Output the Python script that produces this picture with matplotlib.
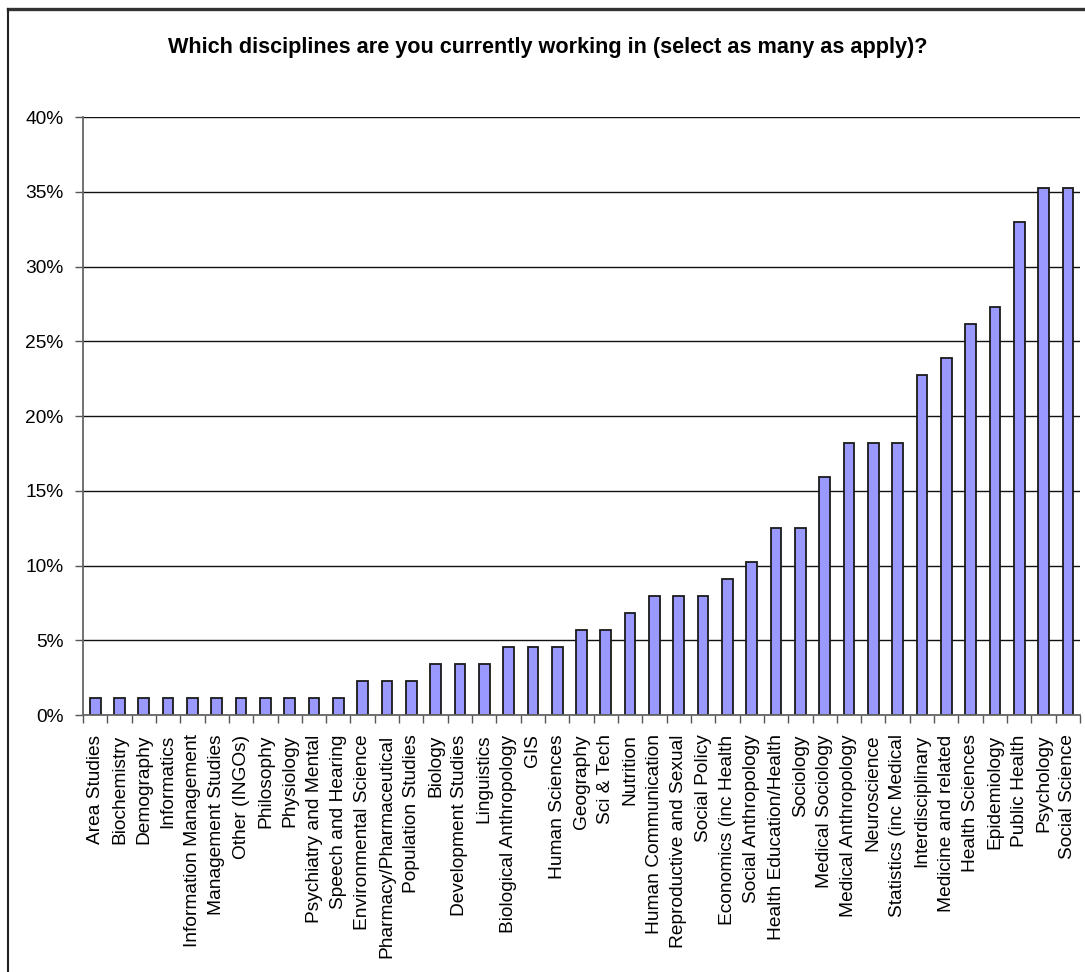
import matplotlib
matplotlib.use("Agg")
import matplotlib.pyplot as plt
from matplotlib.lines import Line2D
from matplotlib.ticker import FixedLocator, MultipleLocator, FuncFormatter

categories = [
    "Area Studies", "Biochemistry", "Demography", "Informatics",
    "Information Management", "Management Studies", "Other (INGOs)",
    "Philosophy", "Physiology", "Psychiatry and Mental", "Speech and Hearing",
    "Environmental Science", "Pharmacy/Pharmaceutical", "Population Studies",
    "Biology", "Development Studies", "Linguistics", "Biological Anthropology",
    "GIS", "Human Sciences", "Geography", "Sci & Tech", "Nutrition",
    "Human Communication", "Reproductive and Sexual", "Social Policy",
    "Economics (inc Health", "Social Anthropology", "Health Education/Health",
    "Sociology", "Medical Sociology", "Medical Anthropology", "Neuroscience",
    "Statistics (inc Medical", "Interdisciplinary", "Medicine and related",
    "Health Sciences", "Epidemiology", "Public Health", "Psychology",
    "Social Science",
]
percent = [
    1.14, 1.14, 1.14, 1.14, 1.14, 1.14, 1.14, 1.14, 1.14, 1.14, 1.14,
    2.27, 2.27, 2.27,
    3.41, 3.41, 3.41,
    4.55, 4.55, 4.55,
    5.68, 5.68,
    6.82,
    7.95, 7.95, 7.95,
    9.09,
    10.23,
    12.50, 12.50,
    15.91,
    18.18, 18.18, 18.18,
    22.73, 23.86, 26.14, 27.27, 32.95, 35.23, 35.23,
]
title = "Which disciplines are you currently working in (select as many as apply)?"

plt.rcParams["font.family"] = ["Liberation Sans", "DejaVu Sans"]

fig = plt.figure(figsize=(10.85, 9.72), dpi=100)
ax = fig.add_axes([0.0765, 0.2644, 0.9189, 0.6152])

x = list(range(len(categories)))
ax.bar(x, percent, width=0.44, color="#9999FF", edgecolor="#1a1a1a",
       linewidth=1.3, zorder=3)

ax.set_xlim(-0.5, len(categories) - 0.5)
ax.set_ylim(0, 40)
ax.yaxis.set_major_locator(MultipleLocator(5))
ax.yaxis.set_major_formatter(FuncFormatter(lambda v, p: f"{v:.0f}%"))
ax.grid(axis="y", color="#111111", linewidth=1.0, zorder=1)

# category labels centred under bars, tick marks on the category boundaries
ax.set_xticks(x)
ax.set_xticklabels(categories, rotation=90, fontsize=13.8)
ax.tick_params(axis="x", which="major", length=0, pad=14)
ax.xaxis.set_minor_locator(FixedLocator([i - 0.5 for i in range(len(categories) + 1)]))
ax.tick_params(axis="x", which="minor", length=6, width=1.0, color="#555555")
ax.tick_params(axis="y", length=6, width=1.0, color="#555555", labelsize=13.8, pad=8)

for side in ("top", "right"):
    ax.spines[side].set_visible(False)
for side in ("left", "bottom"):
    ax.spines[side].set_color("#666666")
    ax.spines[side].set_linewidth(1.3)
    ax.spines[side].set_zorder(4)

fig.text(0.505, 0.951, title, ha="center", va="center", fontsize=15.6,
         fontweight="bold")

# chart frame
W, H = 1085, 972
fig.add_artist(Line2D([7.5 / W, 1.0], [1 - 9 / H, 1 - 9 / H],
                      transform=fig.transFigure, color="#333333", linewidth=2.4))
fig.add_artist(Line2D([7.5 / W, 7.5 / W], [0.0, 1 - 9 / H],
                      transform=fig.transFigure, color="#222222", linewidth=1.5))

fig.savefig("out.png", dpi=100)
